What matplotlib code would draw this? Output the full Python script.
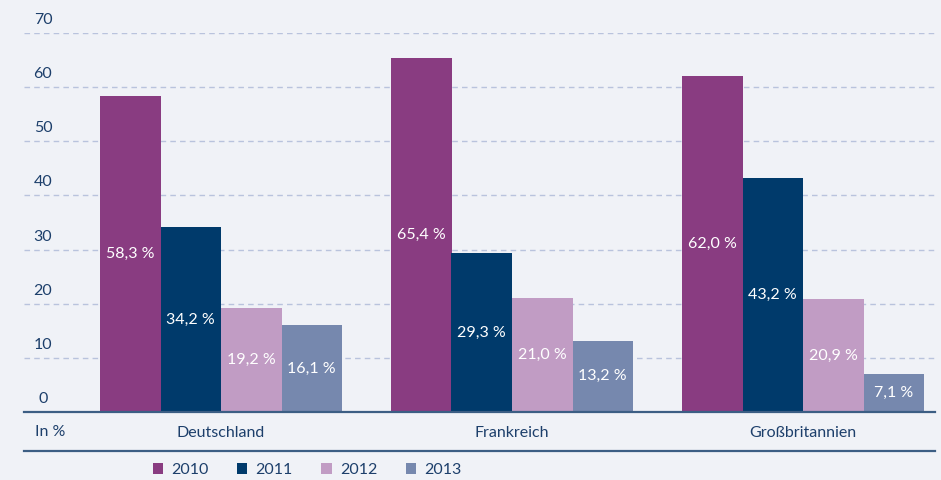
import matplotlib
matplotlib.use("Agg")
import matplotlib.pyplot as plt
import numpy as np
from matplotlib.transforms import ScaledTranslation
from matplotlib.lines import Line2D
from matplotlib.patches import Patch

plt.rcParams['font.family'] = ['Lato', 'DejaVu Sans']

countries = ["Deutschland", "Frankreich", "Großbritannien"]
years = ["2010", "2011", "2012", "2013"]
values = {
    "2010": [58.3, 65.4, 62.0],
    "2011": [34.2, 29.3, 43.2],
    "2012": [19.2, 21.0, 20.9],
    "2013": [16.1, 13.2, 7.1],
}
yticks = [0, 10, 20, 30, 40, 50, 60, 70]
colors = ["#893C81", "#003A6B", "#C19CC4", "#7688AE"]
bg = "#F0F2F7"
txt = "#1D3F6B"
fs = 11.5

W, H = 941, 480
fig = plt.figure(figsize=(W / 100, H / 100), dpi=100, facecolor=bg)
ax = fig.add_axes([24 / W, (H - 412) / H, (935 - 24) / W, (412 - 33) / H])
ax.set_facecolor(bg)

# x data: group spacing 291px, bar width 60.5 px
px_per_unit = 291.0
x0 = (221 - 24) / px_per_unit
centers = x0 + np.arange(len(countries))
bw = 60.5 / px_per_unit
offsets = (np.arange(len(years)) - 1.5) * bw

for i, yr in enumerate(years):
    vals = values[yr]
    bars = ax.bar(centers + offsets[i], vals, width=bw, color=colors[i],
                  zorder=3, label=yr)
    for b, v in zip(bars, vals):
        ax.text(b.get_x() + b.get_width() / 2, v / 2,
                f"{v:.1f}".replace(".", ",") + " %",
                ha="center", va="center", color="white", fontsize=fs, zorder=4)

ax.set_xlim(0, (935 - 24) / px_per_unit)
ax.set_ylim(0, 70)

ax.set_yticks(yticks)
ax.yaxis.grid(True, color="#B9C3DD", linestyle=(0, (4, 3)), linewidth=1.0, zorder=0)
ax.tick_params(axis="y", length=0, pad=0, labelsize=fs, labelcolor=txt)
off = ScaledTranslation(19 / 100, 13 / 100, fig.dpi_scale_trans)
for lab in ax.get_yticklabels():
    lab.set_horizontalalignment("center")
    lab.set_verticalalignment("center")
    lab.set_transform(lab.get_transform() + off)

ax.set_xticks(centers)
ax.set_xticklabels(countries)
ax.tick_params(axis="x", length=0, pad=10, labelsize=fs, labelcolor=txt)

for s in ["top", "right", "left"]:
    ax.spines[s].set_visible(False)
ax.spines["bottom"].set_color("#3C5E84")
ax.spines["bottom"].set_linewidth(1.6)
ax.spines["bottom"].set_zorder(5)

fig.text(35 / W, (H - 432) / H, "In %", ha="left", va="center",
         fontsize=fs, color=txt)
fig.add_artist(Line2D([24 / W, 935 / W], [(H - 451) / H] * 2,
                      color="#3C5E84", linewidth=1.6))

handles = [Patch(facecolor=c, edgecolor="none") for c in colors]
leg = fig.legend(handles, years, loc="center", ncol=4,
                 bbox_to_anchor=(307 / W, (H - 470) / H),
                 frameon=False, handlelength=0.65, handleheight=0.65,
                 handletextpad=0.5, columnspacing=1.8, fontsize=fs,
                 borderpad=0, borderaxespad=0)
for t in leg.get_texts():
    t.set_color(txt)

fig.savefig("out.png", dpi=100, facecolor=bg)
